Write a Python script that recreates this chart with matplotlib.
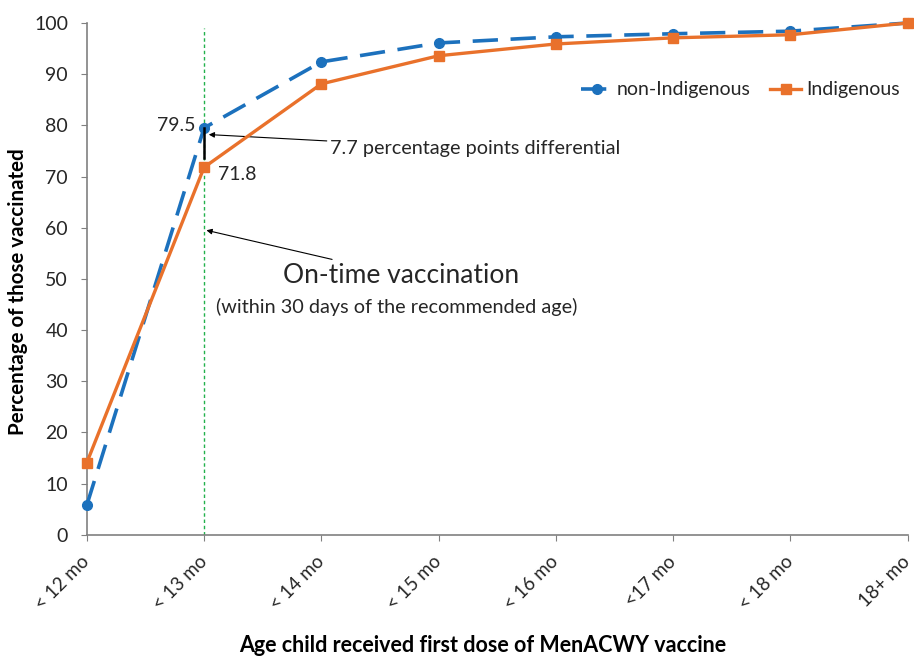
import matplotlib
matplotlib.use("Agg")
import matplotlib.pyplot as plt

categories = ["< 12 mo", "< 13 mo", "< 14 mo", "< 15 mo", "< 16 mo", "<17 mo", "< 18 mo", "18+ mo"]
non_indigenous = [5.8, 79.5, 92.4, 96.1, 97.3, 97.9, 98.4, 100.0]
indigenous = [14.1, 71.8, 88.1, 93.6, 95.9, 97.1, 97.7, 100.0]
y_ticks = [0, 10, 20, 30, 40, 50, 60, 70, 80, 90, 100]

plt.rcParams['font.family'] = ['Lato', 'DejaVu Sans']

blue = '#1C71BD'
orange = '#E9712B'
text_col = '#262626'

W, H = 914, 657
fig = plt.figure(figsize=(W / 100, H / 100), dpi=100)
ax = fig.add_axes([0.095, 0.186, 0.898, 0.779])

x = list(range(len(categories)))
ax.plot(x, non_indigenous, color=blue, lw=2.6, marker='o', ms=7, dashes=(7, 3.5),
        label='non-Indigenous', zorder=3, clip_on=False)
ax.plot(x, indigenous, color=orange, lw=2.4, marker='s', ms=7, label='Indigenous', zorder=4,
        clip_on=False)

ax.set_xlim(0, len(categories) - 1)
ax.set_ylim(0, 100)
ax.set_yticks(y_ticks)
ax.set_xticks(x)
ax.set_xticklabels(categories, rotation=45, ha='right', va='center', rotation_mode='anchor',
                   fontsize=13.5, color=text_col)
ax.tick_params(axis='y', labelsize=14, length=4.5, color='#808080', pad=9, labelcolor=text_col)
ax.tick_params(axis='x', length=4.5, color='#808080', pad=13)
for s in ['top', 'right']:
    ax.spines[s].set_visible(False)
for s in ['left', 'bottom']:
    ax.spines[s].set_color('#808080')
    ax.spines[s].set_linewidth(1.2)

# on-time vertical line
ax.plot([1, 1], [0, 99], color='#22B14C', lw=1, ls=(0, (2.5, 2)), zorder=2)
# differential bar
ax.plot([1, 1], [73.6, 79.5], color='black', lw=1.8, zorder=5)

ax.text(0.93, 80.0, '79.5', ha='right', va='center', fontsize=14, color=text_col)
ax.text(1.12, 70.4, '71.8', ha='left', va='center', fontsize=14, color=text_col)

ax.annotate('7.7 percentage points differential', xy=(1.04, 78.2), xytext=(2.07, 75.4),
            fontsize=14.3, va='center', ha='left', color=text_col,
            arrowprops=dict(arrowstyle='-|>', color='black', lw=0.8, mutation_scale=8,
                            shrinkA=0, shrinkB=0))
ax.annotate('On-time vaccination', xy=(1.02, 59.5), xytext=(1.67, 50.7),
            fontsize=19, va='center', ha='left', color=text_col,
            arrowprops=dict(arrowstyle='-|>', color='black', lw=0.8, mutation_scale=8,
                            shrinkA=2, shrinkB=0))
ax.text(1.1, 44.5, '(within 30 days of the recommended age)', fontsize=14.3, va='center',
        ha='left', color=text_col)

fig.text(18 / W, 1 - 292 / H, 'Percentage of those vaccinated', fontsize=14.8,
         fontweight='bold', rotation=90, ha='center', va='center', color='black')
fig.text(483 / W, 1 - 645 / H, 'Age child received first dose of MenACWY vaccine',
         fontsize=15.5, fontweight='bold', ha='center', va='center', color='black')

ax.legend(loc='upper right', bbox_to_anchor=(1.012, 0.92), frameon=False, ncol=2, fontsize=14,
          handlelength=1.6, handletextpad=0.25, columnspacing=1.0, labelcolor=text_col)

fig.savefig('out.png', dpi=100)
